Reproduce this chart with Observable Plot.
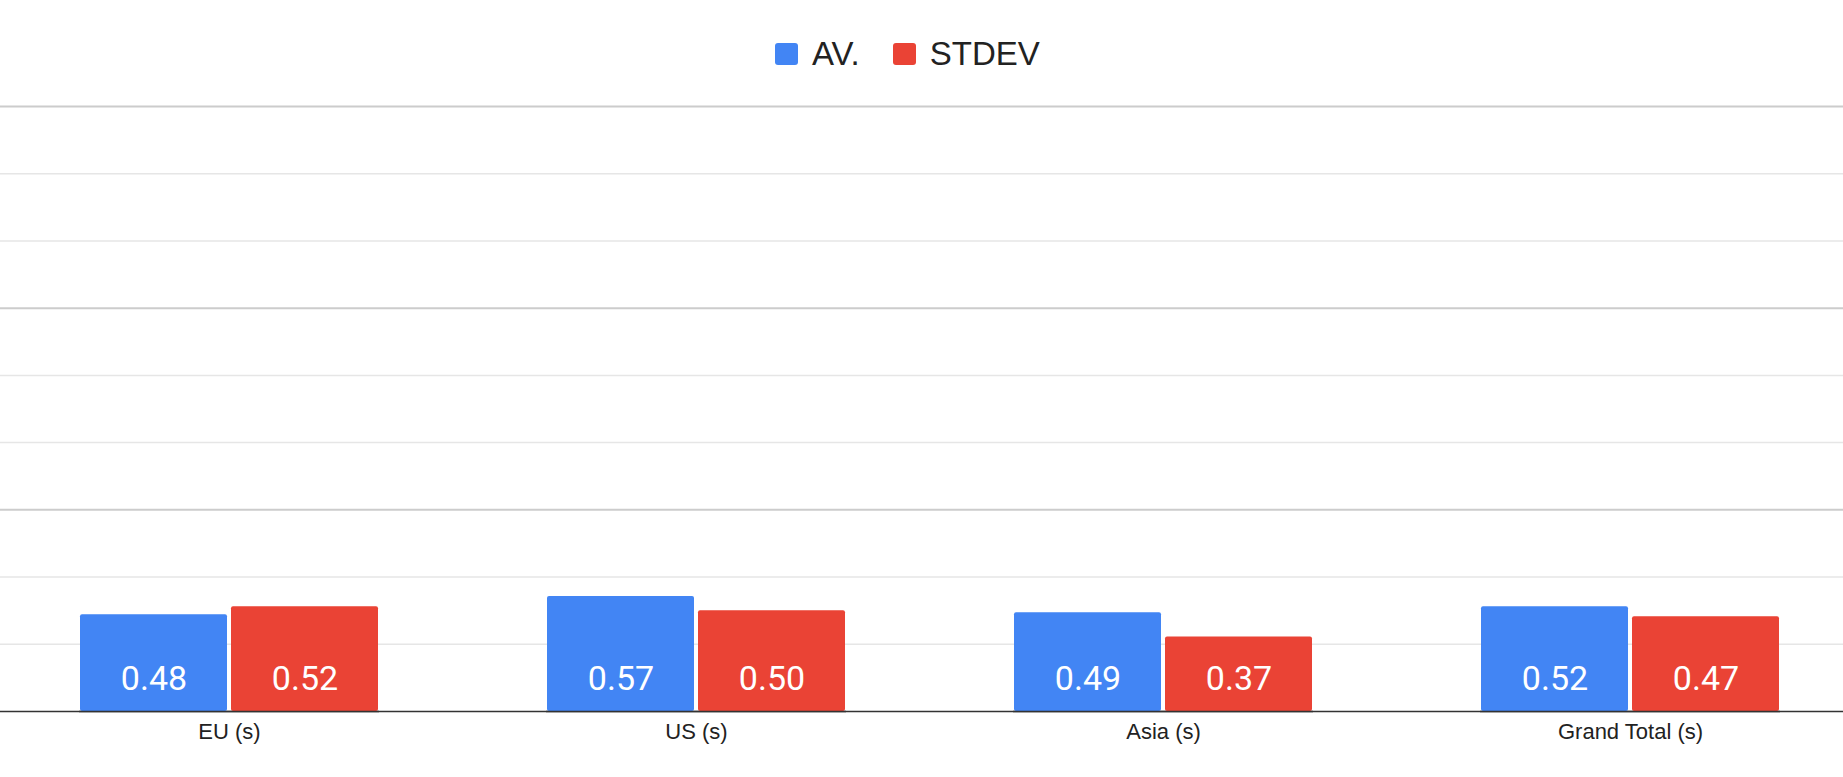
<!DOCTYPE html>
<html><head><meta charset="utf-8">
<script src="https://cdn.jsdelivr.net/npm/d3@7"></script>
<script src="https://cdn.jsdelivr.net/npm/@observablehq/plot@0.6"></script>
<style>
html,body{margin:0;padding:0;background:#fff;}
#legend{position:relative;width:1843px;height:90px;}
#legend .row{position:absolute;left:775px;top:36px;display:flex;align-items:center;height:36px;font:33px "Liberation Sans",Arial,sans-serif;color:#222;line-height:36px;white-space:nowrap;}
#legend .item{display:flex;align-items:center;margin-right:33px;}
#legend .sw{width:23px;height:22px;border-radius:3px;margin-right:14px;}
#chart{position:relative;width:1843px;height:687px;}
#chart svg{position:absolute;left:0;top:0;}
</style></head><body>
<div id="legend"><div class="row"></div></div>
<div id="chart"></div>
<script>
const categories = ["EU (s)", "US (s)", "Asia (s)", "Grand Total (s)"];
const seriesNames = ["AV.", "STDEV"];
const av = [0.48, 0.57, 0.49, 0.52];
const stdev = [0.52, 0.50, 0.37, 0.47];
const colors = ["#4285F4", "#EA4335"];
const yDomain = [0, 3];
const majorGrid = [1, 2, 3];
const minorGrid = [1/3, 2/3, 4/3, 5/3, 7/3, 8/3];
const valueFormat = d3.format(".2f");

const rows = categories.flatMap((c, i) => [
  {category: c, series: seriesNames[0], value: av[i]},
  {category: c, series: seriesNames[1], value: stdev[i]}
]);

// legend
const row = document.querySelector("#legend .row");
seriesNames.forEach((s, i) => {
  const it = document.createElement("div");
  it.className = "item";
  const sw = document.createElement("div");
  sw.className = "sw";
  sw.style.background = colors[i];
  const t = document.createElement("span");
  t.textContent = s;
  it.appendChild(sw); it.appendChild(t);
  row.appendChild(it);
});

const dims = {width: 1843, height: 687, marginTop: 16, marginBottom: 66, marginLeft: 0, marginRight: 0};

const grid = Plot.plot({
  ...dims,
  y: {domain: yDomain, axis: null},
  marks: [
    Plot.ruleY(minorGrid, {stroke: "#e6e6e6", strokeWidth: 1.5}),
    Plot.ruleY(majorGrid, {stroke: "#cccccc", strokeWidth: 2}),
    Plot.ruleY([0], {stroke: "#333333", strokeWidth: 1.5})
  ]
});

const bars = Plot.plot({
  ...dims,
  style: {background: "transparent", fontFamily: "'Liberation Sans', Arial, sans-serif", fontSize: "22px", color: "#222"},
  facet: {data: rows, x: "category"},
  fx: {domain: categories, range: [-4.85, 1863.5], paddingInner: 0.3577, paddingOuter: 0.1789, label: null, tickSize: 0, tickPadding: 12, axis: "bottom"},
  x: {domain: seriesNames, paddingInner: 0.0263, paddingOuter: 0, axis: null},
  y: {domain: yDomain, axis: null},
  color: {domain: seriesNames, range: colors},
  marks: [
    Plot.barY(rows, {x: "series", y: "value", fill: "series", rx: 2}),
    Plot.text(rows, {x: "series", y: 0, text: d => valueFormat(d.value), fill: "white", fontSize: 34, fontFamily: "Roboto", lineAnchor: "bottom", dy: -22}),
    Plot.ruleY([0], {stroke: "#333333", strokeWidth: 1.5})
  ]
});

const chart = document.getElementById("chart");
chart.appendChild(grid);
chart.appendChild(bars);
</script>
</body></html>
